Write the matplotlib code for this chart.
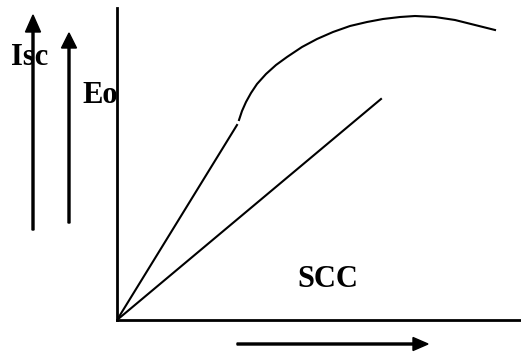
import matplotlib.pyplot as plt
import numpy as np

# schematic values, measured from origin of the axes (pixel-like units)
occ_lin_x = [0, 120]
occ_lin_y = [0, 195]
occ_x = [122, 125, 129, 134, 140, 149, 159, 170, 185, 200, 216, 233, 250, 266, 283, 298, 318, 338, 358, 378]
occ_y = [200, 209, 218, 227, 236, 246, 255, 263, 273, 281, 288, 294, 298, 301, 303, 304, 303, 300, 295, 290]
scc_x = [0, 264]
scc_y = [0, 221]

W, H = 521, 352
fig = plt.figure(figsize=(W / 100, H / 100), dpi=100)

ax = fig.add_axes([117 / W, 32 / H, 404 / W, 312 / H])
ax.plot(occ_lin_x, occ_lin_y, color='black', lw=1.5)
ax.plot(occ_x, occ_y, color='black', lw=1.5, solid_joinstyle='round')
ax.plot(scc_x, scc_y, color='black', lw=1.5)
ax.set_xlim(0, 404)
ax.set_ylim(0, 312)
ax.spines['top'].set_visible(False)
ax.spines['right'].set_visible(False)
ax.spines['left'].set_linewidth(2)
ax.spines['bottom'].set_linewidth(2)
ax.set_xticks([])
ax.set_yticks([])
ax.patch.set_alpha(0)

# overlay in pixel coords for the labels and arrows
ov = fig.add_axes([0, 0, 1, 1])
ov.set_xlim(0, W)
ov.set_ylim(H, 0)
ov.axis('off')
ov.patch.set_alpha(0)

font = dict(family='Liberation Serif', fontweight='bold', fontsize=22, color='black')
ov.text(11, 65, 'Isc', ha='left', va='baseline', **font)
ov.text(82, 103, 'Eo', ha='left', va='baseline', **font)
ov.text(297, 287, 'SCC', ha='left', va='baseline', **font)

ov.arrow(33, 230, 0, -215 + 17, width=2, head_width=15, head_length=17,
         color='black', length_includes_head=False)
ov.arrow(69, 223, 0, -190 + 15, width=2, head_width=15, head_length=15,
         color='black', length_includes_head=False)
ov.arrow(237, 344, 191 - 15, 0, width=2, head_width=13, head_length=15,
         color='black', length_includes_head=False)

fig.savefig('out.png', dpi=100)
